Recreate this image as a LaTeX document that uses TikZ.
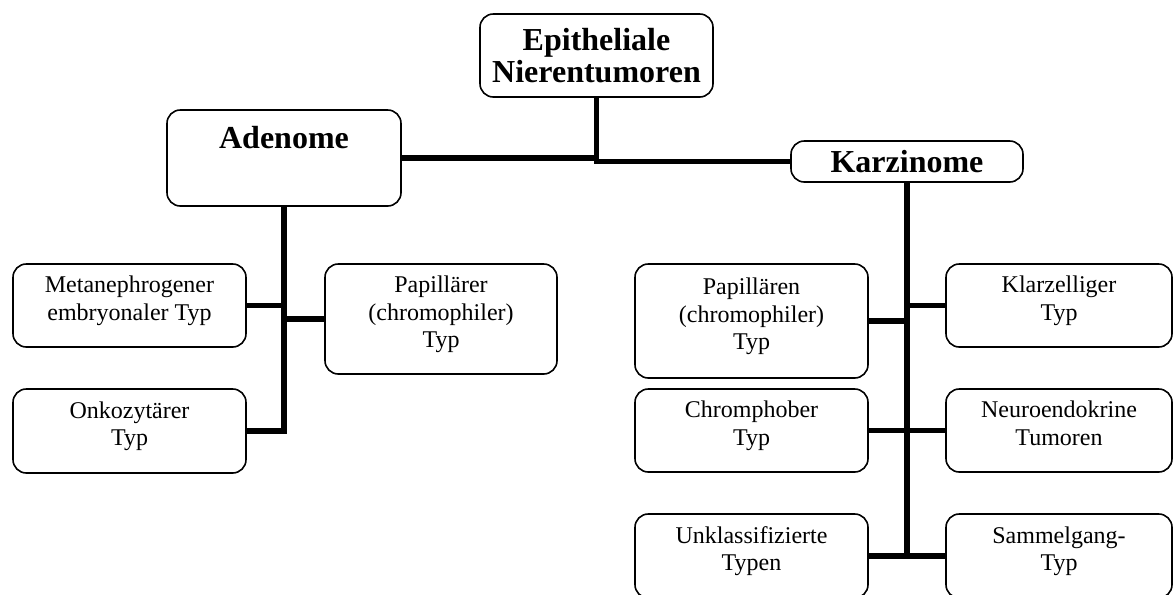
\documentclass[tikz,border=0pt]{standalone}
\usepackage{fontspec}
\setmainfont{Liberation Serif}
\tikzset{
  box/.style={draw, line width=1.2pt, rounded corners=10pt, align=center, inner sep=0pt,
    minimum width=174.75pt, font=\fontsize{18}{20.8}\selectfont},
  leaf/.style={box, execute at end node={\rule[-11pt]{0pt}{11pt}}},
  headbox/.style={box, font=\fontsize{24}{23.8}\selectfont\bfseries},
  link/.style={line width=4pt},
}

\begin{document}
\begin{tikzpicture}[x=0.75pt,y=-0.75pt]
        \useasboundingbox (0,0) rectangle (1174,594);
        % top level
        \node[headbox, minimum height=62.25pt] (epi) at (596.5,55.5) {Epitheliale\\Nierentumoren};
        \node[headbox, minimum width=175.5pt, minimum height=72pt, text height=17pt, text depth=32pt] (aden) at (284,158) {Adenome};
        \node[headbox, minimum width=174pt, minimum height=30.75pt] (karz) at (907,161.5) {Karzinome};
        % Adenome
        \node[leaf, minimum height=62.25pt] (meta) at (129.5,305.5) {Metanephrogener\\embryonaler Typ};
        \node[leaf, minimum width=174pt, minimum height=82.5pt] (papa) at (441,319) {Papillärer\\(chromophiler)\\Typ};
        \node[leaf, minimum height=63pt] (onko) at (129.5,431) {Onkozytärer\\Typ};
        % Karzinome
        \node[leaf, minimum height=85.5pt] (papk) at (751.5,321) {Papillären\\(chromophiler)\\Typ};
        \node[leaf, minimum width=169.5pt, minimum height=62.25pt] (klar) at (1059,305.5) {Klarzelliger\\Typ};
        \node[leaf, minimum height=62.25pt] (chrom) at (751.5,430.5) {Chromphober\\Typ};
        \node[leaf, minimum width=169.5pt, minimum height=62.25pt] (neuro) at (1059,430.5) {Neuroendokrine\\Tumoren};
        \node[leaf, minimum height=63pt] (unkl) at (751.5,556) {Unklassifizierte\\Typen};
        \node[leaf, minimum width=169.5pt, minimum height=63pt] (samm) at (1059,556) {Sammelgang-\\Typ};
        % links
        \draw[link] (aden.east) -- (aden.east -| epi.south);
        \draw[link] (epi.south) |- (karz.west);
        \draw[link] (aden.south) |- (onko.east);
        \draw[link] (meta.east) -- (meta.east -| aden.south);
        \draw[link] (papa.west) -- (papa.west -| aden.south);
        \draw[link] (karz.south) -- (karz.south |- unkl.east);
        \draw[link] (unkl.east) -- (samm.west);
        \draw[link] (papk.east) -- (papk.east -| karz.south);
        \draw[link] (klar.west) -- (klar.west -| karz.south);
        \draw[link] (chrom.east) -- (neuro.west);
    \end{tikzpicture}
\end{document}
